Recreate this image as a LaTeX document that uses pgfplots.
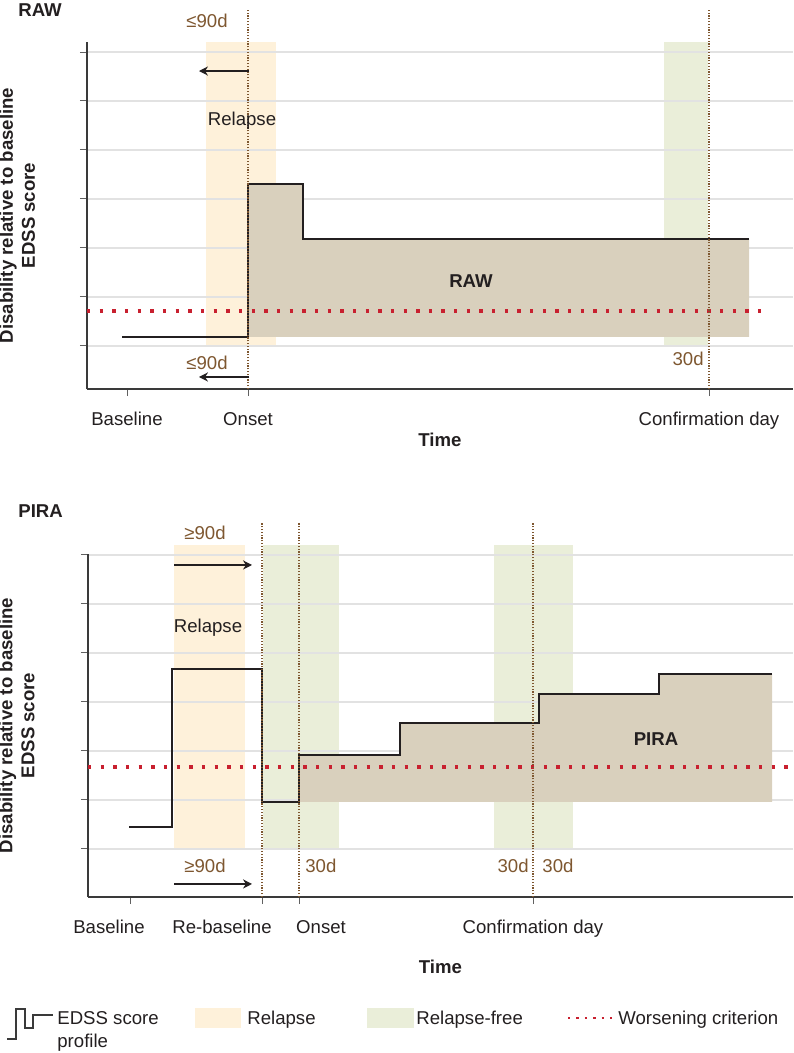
\documentclass[border=0pt]{standalone}
\usepackage{pgfplots}
\pgfplotsset{compat=1.18}
\usepackage{fontspec}
\setmainfont{Liberation Sans}
\usetikzlibrary{arrows.meta}

\definecolor{relapsec}{HTML}{FEF1DA}
\definecolor{freec}{HTML}{EAEED9}
\definecolor{tanc}{HTML}{D9D0BD}
\definecolor{brownc}{HTML}{7E5730}
\definecolor{redc}{HTML}{C8202F}
\definecolor{gridc}{HTML}{E2E2E2}
\definecolor{axisc}{HTML}{3A3A3A}
\definecolor{inkc}{HTML}{231F20}

\newcommand{\fs}{\fontsize{9.3}{11}\selectfont}

\tikzset{
  arr/.style={color=inkc, line width=0.7pt, -{Stealth[length=4.5pt,width=4.6pt]}},
}
\pgfplotsset{
  panel/.style={
    set layers, scale only axis, clip=false,
    axis x line*=bottom, axis y line*=left,
    axis line style={color=axisc, line width=0.6pt},
    ymajorgrids, grid style={color=gridc, line width=0.7pt},
    ytick={0,1,2,3,4,5,6}, yticklabels={},
    tick align=outside, major tick length=3.6pt,
    tick style={color=axisc!80, line width=0.5pt},
    xticklabel style={font=\fs, text=inkc, anchor=base, yshift=-14.5pt},
    xlabel style={font=\fs\bfseries, text=inkc, anchor=center},
    ylabel style={font=\fs\bfseries, text=inkc, align=center, anchor=center},
    xmax=793,
  },
  band/.style={draw=none, fill=#1, on layer=axis background, forget plot},
  profile/.style={color=inkc, line width=1pt, line join=miter},
  worse/.style={color=redc, line width=1.67pt, dash pattern=on 1.67pt off 4.66pt},
  marker/.style={color=brownc, line width=0.6pt, dash pattern=on 0.6pt off 0.8pt},
}

\begin{document}
\begin{tikzpicture}

% ---------------- RAW panel ----------------
\node[font=\fs\bfseries, text=inkc, anchor=west, inner sep=0] at (9pt,-5pt) {RAW};
\begin{axis}[panel,
  at={(43.5pt,-194.5pt)}, anchor=south west,
  width=353pt, height=173.5pt,
  xmin=87, ymin=-0.878, ymax=6.204,
  xtick={127,248,709}, xticklabels={Baseline,Onset,Confirmation day},
  xlabel={Time}, xlabel style={at={(axis description cs:0.5,-0.147)}},
  ylabel={Disability relative to baseline\\EDSS score},
  ylabel style={at={(axis description cs:-0.099,0.5)}},
]
% relapse / relapse-free windows
\addplot[band=relapsec] coordinates {(206,0) (206,6.204) (276,6.204) (276,0)} -- cycle;
\addplot[band=freec] coordinates {(664,0) (664,6.204) (708,6.204) (708,0)} -- cycle;
% RAW area
\addplot[draw=none, fill=tanc] coordinates {(248,0.184) (248,3.306) (303,3.306) (303,2.184) (749,2.184) (749,0.184)} -- cycle;
% worsening criterion
\addplot[worse] coordinates {(87,0.714) (768,0.714)};
% EDSS profile
\addplot[profile, const plot] coordinates {(122,0.184) (248,3.306) (303,2.184) (749,2.184)};
% time markers
\addplot[marker] coordinates {(248,-0.878) (248,6.878)};
\addplot[marker] coordinates {(709,-0.878) (709,6.878)};
% annotations
\node[font=\fs, text=brownc] at (axis cs:207,6.633) {≤90d};
\node[font=\fs, text=brownc] at (axis cs:207,-0.347) {≤90d};
\draw[arr] (axis cs:249,5.612) -- (axis cs:199,5.612);
\draw[arr] (axis cs:249,-0.633) -- (axis cs:199,-0.633);
\node[font=\fs, text=inkc] at (axis cs:242,4.592) {Relapse};
\node[font=\fs\bfseries, text=inkc] at (axis cs:471,1.327) {RAW};
\node[font=\fs, text=brownc, anchor=east, inner sep=0] at (axis cs:704,-0.265) {30d};
\end{axis}

% ---------------- PIRA panel ----------------
\node[font=\fs\bfseries, text=inkc, anchor=west, inner sep=0] at (9pt,-255.5pt) {PIRA};
\begin{axis}[panel,
  at={(44pt,-448.5pt)}, anchor=south west,
  width=352.5pt, height=171.5pt,
  xmin=88, ymin=-0.98, ymax=6.02,
  xtick={130,262,299,533},
  xticklabels={\hspace*{-21pt}Baseline,\hspace*{-40pt}Re-baseline,\hspace*{22pt}Onset,Confirmation day},
  xlabel={Time}, xlabel style={at={(axis description cs:0.5,-0.204)}},
  ylabel={Disability relative to baseline\\EDSS score},
  ylabel style={at={(axis description cs:-0.101,0.5)}},
]
\addplot[band=relapsec] coordinates {(174,0) (174,6.204) (245,6.204) (245,0)} -- cycle;
\addplot[band=freec] coordinates {(263,0) (263,6.204) (339,6.204) (339,0)} -- cycle;
\addplot[band=freec] coordinates {(494,0) (494,6.204) (573,6.204) (573,0)} -- cycle;
% PIRA area
\addplot[draw=none, fill=tanc] coordinates {(299,0.959) (299,1.918) (400,1.918) (400,2.571) (539,2.571) (539,3.163) (659,3.163) (659,3.571) (772,3.571) (772,0.959)} -- cycle;
\addplot[worse] coordinates {(88,1.673) (790,1.673)};
\addplot[profile, const plot] coordinates {(129,0.449) (172,3.673) (262,0.959) (299,1.918) (400,2.571) (539,3.163) (659,3.571) (772,3.571)};
\addplot[marker] coordinates {(262,-0.98) (262,6.653)};
\addplot[marker] coordinates {(299,-0.98) (299,6.653)};
\addplot[marker] coordinates {(533,-0.98) (533,6.653)};
\node[font=\fs, text=brownc] at (axis cs:205,6.449) {≥90d};
\node[font=\fs, text=brownc] at (axis cs:205,-0.347) {≥90d};
\draw[arr] (axis cs:174,5.796) -- (axis cs:252,5.796);
\draw[arr] (axis cs:174,-0.714) -- (axis cs:252,-0.714);
\node[font=\fs, text=inkc] at (axis cs:208,4.51) {Relapse};
\node[font=\fs\bfseries, text=inkc] at (axis cs:656,2.245) {PIRA};
\node[font=\fs, text=brownc, anchor=west, inner sep=0] at (axis cs:305,-0.347) {30d};
\node[font=\fs, text=brownc, anchor=east, inner sep=0] at (axis cs:529,-0.347) {30d};
\node[font=\fs, text=brownc, anchor=west, inner sep=0] at (axis cs:542,-0.347) {30d};
\end{axis}

% ---------------- legend ----------------
\begin{scope}[x=0.5pt, y=-0.5pt]
\draw[color=axisc, line width=0.65pt, line join=miter] (7,1039) -- (16,1039) -- (16,1009) -- (25,1009) -- (25,1028) -- (33,1028) -- (33,1015) -- (53,1015);
\node[font=\fs, text=inkc, anchor=base west, inner sep=0] at (57,1024) {EDSS score};
\node[font=\fs, text=inkc, anchor=base west, inner sep=0] at (57,1047) {profile};
\fill[relapsec] (195,1008) rectangle (241,1028);
\node[font=\fs, text=inkc, anchor=base west, inner sep=0] at (247,1024) {Relapse};
\fill[freec] (367,1008) rectangle (414,1028);
\node[font=\fs, text=inkc, anchor=base west, inner sep=0] at (416,1024) {Relapse-free};
\draw[color=redc, line width=1.2pt, dash pattern=on 1.2pt off 3pt] (568,1018) -- (612,1018);
\node[font=\fs, text=inkc, anchor=base west, inner sep=0] at (618,1024) {Worsening criterion};
\end{scope}

\pgfresetboundingbox
\path[use as bounding box] (0,0) rectangle (396.5pt,-526.5pt);
\end{tikzpicture}
\end{document}
